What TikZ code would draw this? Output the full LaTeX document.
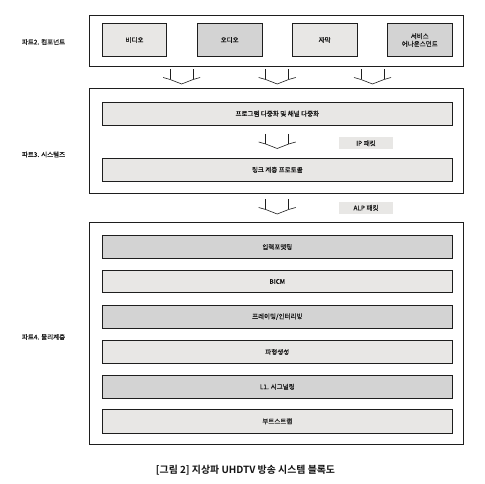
\documentclass[tikz,border=0pt]{standalone}
\usepackage{fontspec}
\setmainfont{Noto Sans CJK KR}[RawFeature={embolden=0.5}]
\newfontfamily\capfont{Noto Sans CJK KR}[BoldFont={* Bold}]
\definecolor{lightfill}{RGB}{232,231,229}
\definecolor{darkfill}{RGB}{211,211,211}
\definecolor{linec}{RGB}{30,30,30}
\definecolor{textc}{RGB}{20,20,20}
\begin{document}
\begin{tikzpicture}[x=1pt,y=-1pt,
  every node/.style={font=\fontsize{6.5}{7.8}\selectfont, text=textc, inner sep=0pt, align=center},
  outerbox/.style={draw=linec, line width=0.9pt, fill=white},
  lbox/.style={draw=linec, line width=0.8pt, fill=lightfill},
  dbox/.style={draw=linec, line width=0.8pt, fill=darkfill},
  tag/.style={fill=lightfill, minimum width=53.4pt, minimum height=12.3pt},
  parttext/.style={anchor=west},
  pics/dnarrow/.style={code={
    \draw[linec, line width=0.6pt] (-11.5,0) -- (-11.5,10);
    \draw[linec, line width=0.6pt] (11.5,0) -- (11.5,10);
    \draw[linec, line width=0.6pt] (-18.5,8) -- (-11.5,10) -- (0,14.5) -- (11.5,10) -- (18.5,8);
  }}
]
\useasboundingbox (0,0) rectangle (485,484);
\fill[white] (0,0) rectangle (485,484);

% Part 2
\node[outerbox, minimum width=374pt, minimum height=51pt] (p2) at (276.3,40.5) {};
\node[lbox, minimum width=64.4pt, minimum height=33.4pt] (video) at (134.5,40) {비디오};
\node[dbox, minimum width=64.7pt, minimum height=33.4pt] (audio) at (229.65,40) {오디오};
\node[lbox, minimum width=64.7pt, minimum height=33.4pt] (sub) at (324.65,40) {자막};
\node[dbox, minimum width=65pt, minimum height=33.4pt] (svc) at (419.8,40) {서비스\\어나운스먼트};
\node[parttext] (l2) at (21.7,42) {파트2. 컴포넌트};

\pic at (181.65,69.5) {dnarrow};
\pic at (277.2,69.5) {dnarrow};
\pic at (372.5,69.5) {dnarrow};

% Part 3
\node[outerbox, minimum width=374pt, minimum height=105pt] (p3) at (276.3,140.8) {};
\node[lbox, minimum width=350pt, minimum height=22.7pt] (mux) at (277.3,113.65) {프로그램 다중화 및 채널 다중화};
\pic at (277.2,134) {dnarrow};
\node[tag] (ip) at (366,143.3) {IP 패킷};
\node[lbox, minimum width=350pt, minimum height=23pt] (link) at (277.3,169.8) {링크 계층 프로토콜};
\node[parttext] (l3) at (21.7,154.5) {파트3. 시스템즈};

\pic at (277.2,199.5) {dnarrow};
\node[tag] (alp) at (366,207.9) {ALP 패킷};

% Part 4
\node[outerbox, minimum width=374pt, minimum height=221.6pt] (p4) at (276.3,333.5) {};
\node[dbox, minimum width=350pt, minimum height=22.6pt] (inf) at (277.3,247) {입력포맷팅};
\node[lbox, minimum width=350pt, minimum height=22.4pt] (bicm) at (277.3,281.5) {BICM};
\node[dbox, minimum width=350pt, minimum height=22.7pt] (frm) at (277.3,316.65) {프레이밍/인터리빙};
\node[lbox, minimum width=350pt, minimum height=22.6pt] (wave) at (277.3,352) {파형생성};
\node[dbox, minimum width=350pt, minimum height=23pt] (l1) at (277.3,386.8) {L1. 시그널링};
\node[lbox, minimum width=350pt, minimum height=24pt] (boot) at (277.3,421.3) {부트스트랩};
\node[parttext] (l4) at (21.7,337) {파트4. 물리계층};

% Caption
\node[font=\capfont\fontsize{9.9}{11}\selectfont\bfseries] (cap) at (245.5,470) {[그림 2] 지상파 UHDTV 방송 시스템 블록도};
\end{tikzpicture}
\end{document}
